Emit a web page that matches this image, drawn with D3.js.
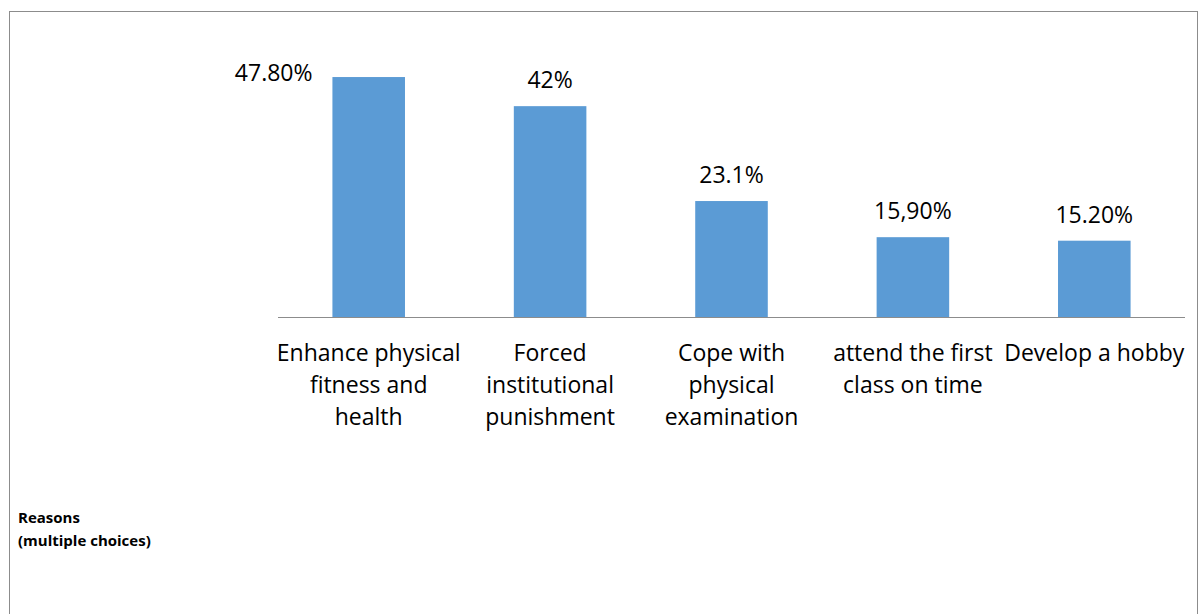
<!DOCTYPE html>
<html><head><meta charset="utf-8">
<script src="https://cdn.jsdelivr.net/npm/d3@7"></script>
<style>body{margin:0;background:#fff}svg{display:block}</style>
</head><body>
<script>
const categories = [
  ["Enhance physical", "fitness and", "health"],
  ["Forced", "institutional", "punishment"],
  ["Cope with", "physical", "examination"],
  ["attend the first", "class on time"],
  ["Develop a hobby"]
];
const values = [47.8, 42, 23.1, 15.9, 15.2];
const valueLabels = ["47.80%", "42%", "23.1%", "15,90%", "15.20%"];
const axisTitle = ["Reasons", "(multiple choices)"];

const W = 1202, H = 614;
const font = "'Open Sans', sans-serif";
const svg = d3.select("body").append("svg").attr("width", W).attr("height", H);

svg.append("rect").attr("x", 9.5).attr("y", 11.5).attr("width", 1188).attr("height", 620)
  .attr("fill", "none").attr("stroke", "#8c8c8c").attr("stroke-width", 1);

const x = d3.scaleBand().domain(d3.range(values.length)).range([278, 1185])
  .paddingInner(0.6).paddingOuter(0.3);
const y = d3.scaleLinear().domain([0, 50]).range([317, 66]);

svg.selectAll("rect.bar").data(values).join("rect").attr("class", "bar")
  .attr("x", (d, i) => x(i)).attr("width", x.bandwidth())
  .attr("y", d => y(d)).attr("height", d => y(0) - y(d))
  .attr("fill", "#5B9BD5");

svg.append("line").attr("x1", 278).attr("x2", 1185).attr("y1", 317.5).attr("y2", 317.5)
  .attr("stroke", "#8c8c8c").attr("stroke-width", 1);

svg.selectAll("text.val").data(values).join("text").attr("class", "val")
  .attr("x", (d, i) => x(i) + x.bandwidth() / 2 + (i === 0 ? -95 : 0))
  .attr("y", (d, i) => y(d) - 18 + (i === 0 ? 22 : 0))
  .attr("text-anchor", "middle").attr("font-family", font).attr("font-size", 23)
  .attr("fill", "#000").text((d, i) => valueLabels[i]);

const cg = svg.selectAll("text.cat").data(categories).join("text").attr("class", "cat")
  .attr("text-anchor", "middle").attr("font-family", font).attr("font-size", 23).attr("fill", "#000");
cg.each(function(lines, i) {
  const t = d3.select(this);
  lines.forEach((l, j) => {
    t.append("tspan").attr("x", x(i) + x.bandwidth() / 2).attr("y", 361 + j * 32).text(l);
  });
});

const tt = svg.append("text").attr("font-family", font).attr("font-size", 15)
  .attr("font-weight", "bold").attr("fill", "#000");
axisTitle.forEach((l, j) => tt.append("tspan").attr("x", 18).attr("y", 523 + j * 23).text(l));
</script>
</body></html>
